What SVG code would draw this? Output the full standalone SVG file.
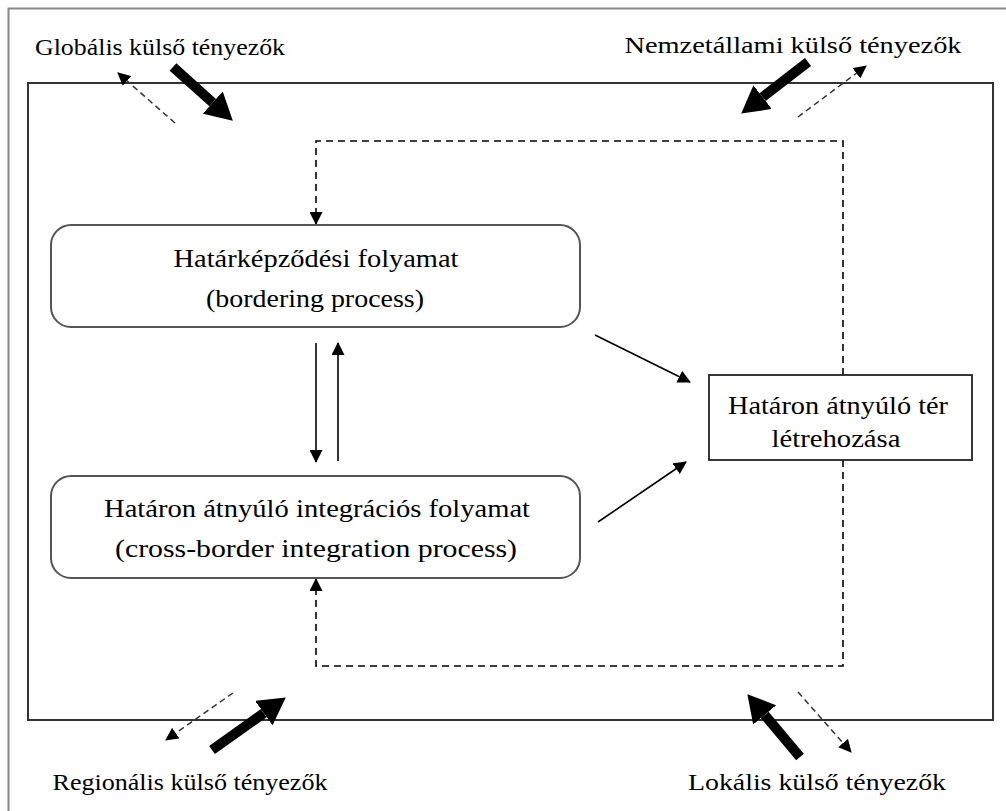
<svg xmlns="http://www.w3.org/2000/svg" width="1006" height="811" viewBox="0 0 1006 811">
<style>
text{font-family:'Liberation Serif','DejaVu Serif','Noto Serif','Times New Roman',serif;font-size:26px;fill:#000;text-anchor:middle}
.lbl{font-size:24px}
.box{fill:#fff;stroke:#555;stroke-width:2}
.thin{stroke:#000;stroke-width:1.6;fill:none}
.dash{stroke:#000;stroke-width:1.6;fill:none;stroke-dasharray:7,5}
.dashs{stroke:#333;stroke-width:1.5;fill:none;stroke-dasharray:6,4}
.thick{stroke:#000;stroke-width:10;fill:none}
</style>
<defs>
<marker id="ah" markerUnits="userSpaceOnUse" markerWidth="13" markerHeight="13" refX="12" refY="6.5" orient="auto"><path d="M0,0 L13,6.5 L0,13 z" fill="#000"/></marker>
<marker id="big" markerUnits="userSpaceOnUse" markerWidth="28" markerHeight="30" refX="0" refY="15" orient="auto"><path d="M0,0 L27,15 L0,30 z" fill="#000"/></marker>
</defs>
<rect x="0" y="0" width="1006" height="811" fill="#fff"/>
<rect x="8.5" y="8.5" width="1010" height="820" fill="none" stroke="#888" stroke-width="2"/>
<rect x="28" y="83" width="965" height="637" fill="none" stroke="#333" stroke-width="2"/>

<g id="connectors">
<path class="dash" d="M843,460 V666 H316 V579" marker-end="url(#ah)"/>
<path class="dash" d="M843,375 V141 H316 V224" marker-end="url(#ah)"/>
<line class="thin" x1="316" y1="343" x2="316" y2="462" marker-end="url(#ah)"/>
<line class="thin" x1="338" y1="461" x2="338" y2="343" marker-end="url(#ah)"/>
<line class="thin" x1="595" y1="335" x2="690" y2="382" marker-end="url(#ah)"/>
<line class="thin" x1="598" y1="522" x2="686" y2="462" marker-end="url(#ah)"/>
<line class="thick" x1="173" y1="67" x2="212.7" y2="102.6" marker-end="url(#big)"/>
<line class="dashs" x1="175" y1="123" x2="118" y2="73" marker-end="url(#ah)"/>
<line class="thick" x1="808" y1="62" x2="762.6" y2="97.1" marker-end="url(#big)"/>
<line class="dashs" x1="798" y1="117" x2="866" y2="66" marker-end="url(#ah)"/>
<line class="thick" x1="212" y1="750" x2="263.8" y2="713.1" marker-end="url(#big)"/>
<line class="dashs" x1="233" y1="693" x2="166" y2="740" marker-end="url(#ah)"/>
<line class="thick" x1="800" y1="757" x2="764.7" y2="714.9" marker-end="url(#big)"/>
<line class="dashs" x1="798" y1="692" x2="851" y2="752" marker-end="url(#ah)"/>
</g>

<g id="node-bordering">
<rect class="box" x="51" y="225" width="529" height="102" rx="20"/>
<text x="316" y="267" textLength="285" lengthAdjust="spacingAndGlyphs">Határképződési folyamat</text>
<text x="315" y="307" textLength="218" lengthAdjust="spacingAndGlyphs">(bordering process)</text>
</g>
<g id="node-integration">
<rect class="box" x="51" y="476" width="529" height="102" rx="20"/>
<text x="317" y="517" textLength="426" lengthAdjust="spacingAndGlyphs">Határon átnyúló integrációs folyamat</text>
<text x="316" y="557" textLength="402" lengthAdjust="spacingAndGlyphs">(cross-border integration process)</text>
</g>
<g id="node-space">
<rect x="709" y="375" width="263" height="85" fill="#fff" stroke="#222" stroke-width="1.8"/>
<text x="838" y="414" textLength="220" lengthAdjust="spacingAndGlyphs">Határon átnyúló tér</text>
<text x="836" y="447" textLength="129" lengthAdjust="spacingAndGlyphs">létrehozása</text>
</g>
<g id="labels">
<text class="lbl" x="160" y="55" textLength="250" lengthAdjust="spacingAndGlyphs">Globális külső tényezők</text>
<text class="lbl" x="793" y="53" textLength="337" lengthAdjust="spacingAndGlyphs">Nemzetállami külső tényezők</text>
<text class="lbl" x="190" y="790" textLength="275" lengthAdjust="spacingAndGlyphs">Regionális külső tényezők</text>
<text class="lbl" x="817" y="790" textLength="258" lengthAdjust="spacingAndGlyphs">Lokális külső tényezők</text>
</g>
</svg>
